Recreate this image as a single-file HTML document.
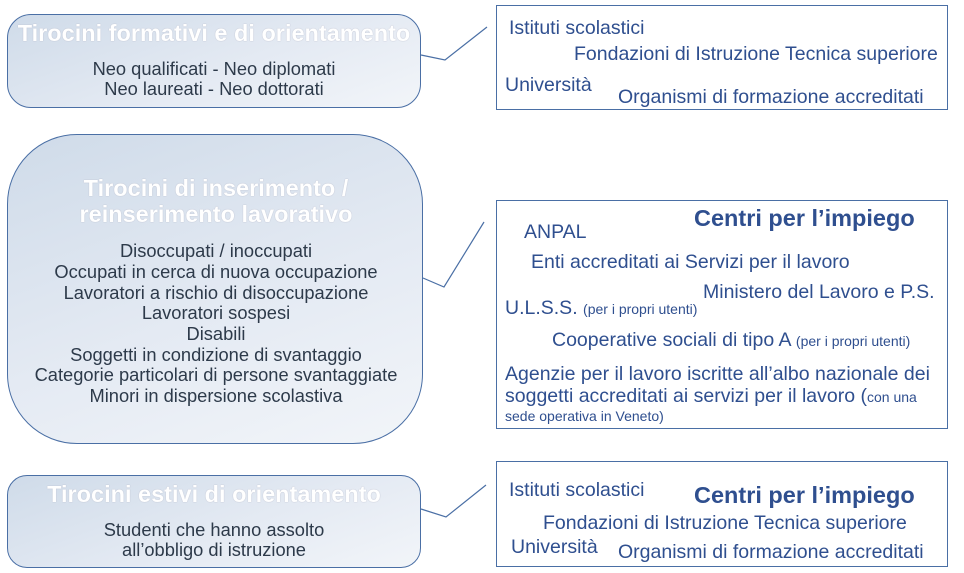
<!DOCTYPE html>
<html><head><meta charset="utf-8"><style>
body{margin:0;width:964px;height:573px;background:#fff;position:relative;overflow:hidden;font-family:"Liberation Sans",sans-serif}
.lb{position:absolute;border:1.5px solid #4a6fa5;background:linear-gradient(160deg,#cfdbe9 0%,#e4eaf3 55%,#f2f5f9 100%);box-sizing:border-box}
.rb{position:absolute;border:1.5px solid #4a6fa5;background:#fff;box-sizing:border-box}
.t{position:absolute;white-space:nowrap;line-height:1}
.ti{color:#fff;font-weight:bold;font-size:23.5px;text-shadow:0 0 1px #aab;text-align:center;width:414px;left:7px}
.bd{color:#2d3a4a;font-size:18.3px;text-align:center;width:414px;left:7px}
.r{color:#2f4f8f;font-size:19.5px}
.s{font-size:14px}
.c{color:#2f4f8f;font-size:23.5px;font-weight:bold}
</style></head><body>
<svg style="position:absolute;left:0;top:0" width="964" height="573">
<polyline points="421,55 445,60 487,27" fill="none" stroke="#4a6fa5" stroke-width="1.2"/>
<polyline points="423,278 444,287 484,222" fill="none" stroke="#4a6fa5" stroke-width="1.2"/>
<polyline points="421,509 446,517 486,485" fill="none" stroke="#4a6fa5" stroke-width="1.2"/>
</svg>
<div class="lb" style="left:7px;top:14px;width:414px;height:94px;border-radius:24px"></div>
<div class="lb" style="left:7px;top:134px;width:416px;height:310px;border-radius:70px"></div>
<div class="lb" style="left:7px;top:475px;width:414px;height:93px;border-radius:20px"></div>
<div class="rb" style="left:496px;top:5px;width:452px;height:105px"></div>
<div class="rb" style="left:496px;top:200px;width:452px;height:229px"></div>
<div class="rb" style="left:496px;top:461px;width:452px;height:106px"></div>

<div class="t ti" style="top:22px">Tirocini formativi e di orientamento</div>
<div class="t bd" style="top:60px">Neo qualificati - Neo diplomati</div>
<div class="t bd" style="top:80px">Neo laureati - Neo dottorati</div>

<div class="t ti" style="top:177px;left:9px">Tirocini di inserimento /</div>
<div class="t ti" style="top:203px;left:9px">reinserimento lavorativo</div>
<div class="t bd" style="top:242px;left:9px">Disoccupati / inoccupati</div>
<div class="t bd" style="top:263px;left:9px">Occupati in cerca di nuova occupazione</div>
<div class="t bd" style="top:284px;left:9px">Lavoratori a rischio di disoccupazione</div>
<div class="t bd" style="top:304px;left:9px">Lavoratori sospesi</div>
<div class="t bd" style="top:325px;left:9px">Disabili</div>
<div class="t bd" style="top:346px;left:9px">Soggetti in condizione di svantaggio</div>
<div class="t bd" style="top:366px;left:9px">Categorie particolari di persone svantaggiate</div>
<div class="t bd" style="top:387px;left:9px">Minori in dispersione scolastiva</div>

<div class="t ti" style="top:483px">Tirocini estivi di orientamento</div>
<div class="t bd" style="top:521px">Studenti che hanno assolto</div>
<div class="t bd" style="top:541px">all’obbligo di istruzione</div>

<div class="t r" style="left:509px;top:19px">Istituti scolastici</div>
<div class="t r" style="left:574px;top:45px">Fondazioni di Istruzione Tecnica superiore</div>
<div class="t r" style="left:505px;top:76px">Università</div>
<div class="t r" style="left:618px;top:88px">Organismi di formazione accreditati</div>

<div class="t c" style="left:694px;top:207px">Centri per l’impiego</div>
<div class="t r" style="left:524px;top:223px">ANPAL</div>
<div class="t r" style="left:531px;top:253px">Enti accreditati ai Servizi per il lavoro</div>
<div class="t r" style="left:703px;top:283px">Ministero del Lavoro e P.S.</div>
<div class="t r" style="left:505px;top:299px">U.L.S.S. <span class="s">(per i propri utenti)</span></div>
<div class="t r" style="left:552px;top:331px">Cooperative sociali di tipo A <span class="s">(per i propri utenti)</span></div>
<div class="t r" style="left:505px;top:365px">Agenzie per il lavoro iscritte all’albo nazionale dei</div>
<div class="t r" style="left:505px;top:387px">soggetti accreditati ai servizi per il lavoro (<span class="s">con una</span></div>
<div class="t r s" style="left:505px;top:409px">sede operativa in Veneto)</div>

<div class="t r" style="left:509px;top:481px">Istituti scolastici</div>
<div class="t c" style="left:694px;top:484px">Centri per l’impiego</div>
<div class="t r" style="left:543px;top:514px">Fondazioni di Istruzione Tecnica superiore</div>
<div class="t r" style="left:511px;top:538px">Università</div>
<div class="t r" style="left:618px;top:543px">Organismi di formazione accreditati</div>
</body></html>
